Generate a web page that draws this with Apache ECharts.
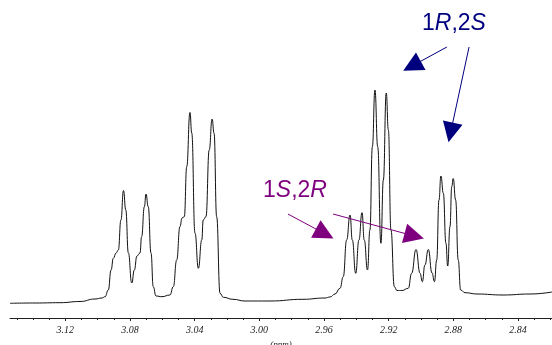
<!DOCTYPE html>
<html>
<head>
<meta charset="utf-8">
<script src="https://cdn.jsdelivr.net/npm/echarts@6/dist/echarts.min.js"></script>
<style>
  html, body { margin: 0; padding: 0; background: #fff; }
  #chart { width: 552px; height: 345px; }
</style>
</head>
<body>
<div id="chart"></div>
<script>
// 1H NMR trace, chemical shift (ppm) against signal intensity (arbitrary units)
const shiftPpm = [
  3.1542, 3.1387, 3.1233, 3.1109, 3.1016, 3.0973, 3.0954, 3.0934, 3.0917, 3.0903,
  3.0886, 3.0872, 3.0856, 3.0840, 3.0826, 3.0810, 3.0789, 3.0773, 3.0757, 3.0738,
  3.0728, 3.0711, 3.0701, 3.0687, 3.0670, 3.0656, 3.0639, 3.0602, 3.0553, 3.0532,
  3.0511, 3.0491, 3.0478, 3.0464, 3.0449, 3.0429, 3.0418, 3.0398, 3.0377, 3.0356,
  3.0347, 3.0330, 3.0310, 3.0292, 3.0280, 3.0264, 3.0243, 3.0223, 3.0163, 3.0089,
  2.9934, 2.9730, 2.9594, 2.9563, 2.9532, 2.9501, 2.9481, 2.9460, 2.9439, 2.9425,
  2.9404, 2.9384, 2.9365, 2.9351, 2.9331, 2.9316, 2.9301, 2.9285, 2.9268, 2.9248,
  2.9233, 2.9215, 2.9202, 2.9186, 2.9165, 2.9149, 2.9118, 2.9079, 2.9058, 2.9031,
  2.9006, 2.8992, 2.8976, 2.8955, 2.8932, 2.8917, 2.8903, 2.8889, 2.8877, 2.8862,
  2.8846, 2.8835, 2.8821, 2.8810, 2.8801, 2.8786, 2.8770, 2.8755, 2.8728, 2.8654,
  2.8493, 2.8326, 2.8190
];
const intensity = [
  14.7, 15.0, 15.3, 16.5, 19.0, 20.0, 21.3, 28.0, 48.0, 59.7,
  65.0, 68.0, 98.0, 127.5, 108.0, 65.0, 35.0, 48.0, 62.0, 65.0,
  81.3, 111.3, 124.0, 111.3, 65.0, 31.3, 22.0, 21.3, 23.0, 31.3,
  58.0, 91.3, 100.0, 101.3, 151.3, 205.5, 185.0, 85.0, 49.7, 78.0,
  98.0, 101.3, 168.0, 199.0, 184.7, 101.3, 24.7, 20.7, 18.7, 17.0,
  17.0, 18.7, 20.0, 21.0, 24.0, 29.7, 41.3, 78.0, 103.0, 78.0,
  44.7, 78.0, 105.3, 78.0, 48.0, 88.0, 171.3, 228.0, 171.3, 74.7,
  138.0, 225.0, 188.0, 88.0, 31.3, 27.5, 27.5, 29.7, 44.7, 68.5,
  44.7, 36.3, 53.0, 68.5, 45.0, 36.3, 58.0, 118.0, 142.0, 124.7,
  74.7, 52.0, 91.3, 131.3, 139.5, 118.0, 58.0, 28.0, 25.3, 24.0,
  23.0, 24.0, 26.0
];

// axis ticks
const labelTicks = [3.12, 3.08, 3.04, 3.00, 2.96, 2.92, 2.88, 2.84];
const minorTicks = [3.15, 3.14, 3.13, 3.11, 3.10, 3.09, 3.07, 3.06, 3.05, 3.03, 3.02, 3.01,
  2.99, 2.98, 2.97, 2.95, 2.94, 2.93, 2.91, 2.90, 2.89, 2.87, 2.86, 2.85, 2.83, 2.82];

const axisMin = 2.819;
const axisMax = 3.1542;

// stereoisomer annotations: arrow tail and arrow-head centre as [ppm, intensity]
const arrowsRS = [
  [[2.8840, 271], [2.9056, 252]],
  [[2.8703, 271], [2.8817, 185.5]]
];
const arrowsSR = [
  [[2.9823, 104], [2.9596, 84.3]],
  [[2.9544, 104], [2.9042, 82]]
];

const navy = '#00007f';
const purple = '#7f007f';

function arrowLines(list) {
  return list.map(p => [{ coord: p[0] }, { coord: p[1] }]);
}

const chart = echarts.init(document.getElementById('chart'), null, { renderer: 'canvas' });

const points = shiftPpm.map((x, i) => [x, intensity[i]]);

const tickLabelStyle = {
  fontFamily: 'Liberation Serif, Times New Roman, serif',
  fontStyle: 'italic',
  fontSize: 10,
  color: '#222'
};

const labelFont = 'Liberation Sans, Arial, sans-serif';

chart.setOption({
  animation: false,
  backgroundColor: '#fff',
  grid: { left: 10, right: 0, top: 18, bottom: 27, containLabel: false, outerBoundsMode: 'none' },
  xAxis: [
    {
      type: 'value',
      inverse: true,
      min: axisMin,
      max: axisMax,
      name: '(ppm)',
      nameLocation: 'middle',
      nameGap: 20,
      nameTextStyle: {
        fontFamily: 'Liberation Serif, Times New Roman, serif',
        fontStyle: 'italic',
        fontSize: 9,
        color: '#222'
      },
      splitLine: { show: false },
      axisLine: { show: true, lineStyle: { color: '#222', width: 1 } },
      axisTick: { show: true, customValues: labelTicks, length: 3, lineStyle: { color: '#222' } },
      axisLabel: Object.assign({
        show: true,
        customValues: labelTicks,
        margin: 7,
        formatter: v => v.toFixed(2)
      }, tickLabelStyle)
    },
    {
      type: 'value',
      inverse: true,
      position: 'bottom',
      min: axisMin,
      max: axisMax,
      splitLine: { show: false },
      axisLine: { show: false },
      axisTick: { show: true, customValues: minorTicks, length: 2, lineStyle: { color: '#222' } },
      axisLabel: { show: false }
    }
  ],
  yAxis: {
    type: 'value',
    show: false,
    min: 0,
    max: 300
  },
  series: [
    {
      type: 'line',
      xAxisIndex: 0,
      data: points,
      showSymbol: false,
      smooth: 0.5,
      smoothMonotone: 'x',
      lineStyle: { color: '#111', width: 1 },
      silent: true,
      markLine: {
        silent: true,
        symbol: ['none', 'triangle'],
        symbolSize: [20, 20],
        label: { show: false },
        lineStyle: { color: navy, width: 1, type: 'solid' },
        itemStyle: { color: navy },
        data: arrowLines(arrowsRS)
      }
    },
    {
      type: 'line',
      xAxisIndex: 0,
      data: [],
      silent: true,
      markLine: {
        silent: true,
        symbol: ['none', 'triangle'],
        symbolSize: [20, 20],
        label: { show: false },
        lineStyle: { color: purple, width: 1, type: 'solid' },
        itemStyle: { color: purple },
        data: arrowLines(arrowsSR)
      }
    }
  ],
  graphic: [
    {
      type: 'text',
      left: 422,
      top: 12,
      style: {
        text: '{n|1}{i|R}{n|,2}{i|S}',
        rich: {
          n: { fontFamily: labelFont, fontSize: 23, fill: navy },
          i: { fontFamily: labelFont, fontSize: 23, fontStyle: 'italic', fill: navy }
        }
      }
    },
    {
      type: 'text',
      left: 263,
      top: 179,
      style: {
        text: '{n|1}{i|S}{n|,2}{i|R}',
        rich: {
          n: { fontFamily: labelFont, fontSize: 23, fill: purple },
          i: { fontFamily: labelFont, fontSize: 23, fontStyle: 'italic', fill: purple }
        }
      }
    }
  ]
});
</script>
</body>
</html>
